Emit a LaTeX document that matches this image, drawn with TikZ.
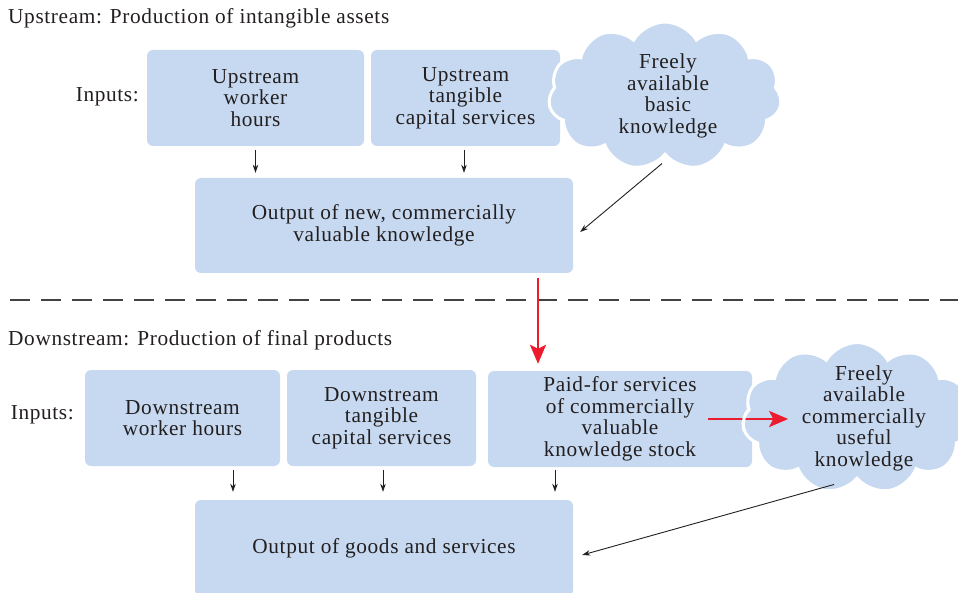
\documentclass[tikz,border=0pt]{standalone}
\usepackage{fontspec}
\setmainfont{Liberation Serif}[LetterSpace=3]
\usetikzlibrary{shapes.symbols,arrows.meta,calc}
\definecolor{boxblue}{RGB}{198,217,240}
\definecolor{flowred}{RGB}{236,28,46}
\definecolor{ink}{RGB}{35,31,32}
\begin{document}
\begin{tikzpicture}[x=1pt,y=-1pt,
  every node/.style={font=\fontsize{21.3}{21.5}\selectfont, text=ink},
  box/.style={fill=boxblue, rounded corners=6pt, align=center, inner sep=0pt},
  puff/.style={cloud, cloud puffs=11, cloud puff arc=120, fill=boxblue,
               draw=white, line width=3pt, inner sep=0pt},
  arr/.style={-{Stealth[length=8pt,width=5.5pt]}, draw=ink, line width=0.9pt},
  redarr/.style={-{Stealth[length=19pt,width=16pt,inset=4pt]}, draw=flowred, line width=2.6pt},
]
\useasboundingbox (0,0) rectangle (958,593);

% ---------- upstream ----------
\node[anchor=west, inner sep=0pt] (uptitle) at (8,18) {Upstream: Production of intangible assets};
\node[anchor=east, inner sep=0pt] (upin) at (139,97) {Inputs:};

\node[box, minimum width=217pt, minimum height=96pt] (b1) at (255.5,98) {Upstream\\worker\\hours};
\node[box, minimum width=189pt, minimum height=96pt] (b2) at (465.5,98) {Upstream\\tangible\\capital services};
\node[puff, minimum width=233pt, minimum height=148pt] (c1) at (665,96) {};
\node[align=center, inner sep=0pt] (c1text) at ([xshift=3pt]c1.center) {Freely\\available\\basic\\knowledge};

\node[box, minimum width=378pt, minimum height=95pt] (o1) at (384,225.5) {Output of new, commercially\\valuable knowledge};

\draw[arr, shorten <=4pt, shorten >=5pt] (b1.south) -- (b1.south |- o1.north);
\draw[arr, shorten <=4pt, shorten >=5pt] ([xshift=-1.5pt]b2.south) -- ([xshift=-1.5pt]b2.south |- o1.north);
\draw[arr] ([xshift=-3pt,yshift=-7pt]c1.south) -- ([xshift=7pt,yshift=-6.5pt]o1.east);

% ---------- divider ----------
\draw[ink!85, line width=1.1pt, dash pattern=on 20pt off 11pt] (10,300) -- (958,300);

% ---------- downstream ----------
\node[anchor=west, inner sep=0pt] (dntitle) at (8,340) {Downstream: Production of final products};
\node[anchor=east, inner sep=0pt] (dnin) at (74,415) {Inputs:};

\node[box, minimum width=195pt, minimum height=96pt] (b4) at (182.5,418) {Downstream\\worker hours};
\node[box, minimum width=189pt, minimum height=96pt] (b5) at (381.5,418) {Downstream\\tangible\\capital services};
\node[box, minimum width=264pt, minimum height=96pt] (b6) at (620,419) {Paid-for services\\of commercially\\valuable\\knowledge stock};
\node[puff, minimum width=229pt, minimum height=151pt] (c2) at (857,418) {};
\node[align=center, inner sep=0pt] (c2text) at ([xshift=7pt]c2.center) {Freely\\available\\commercially\\useful\\knowledge};

\node[box, minimum width=378pt, minimum height=96pt] (o2) at (384,548) {Output of goods and services};

% inputs feeding final output
\coordinate (k4) at ([xshift=50.5pt]b4.south);
\coordinate (k5) at ([xshift=1.5pt]b5.south);
\coordinate (k6) at ([xshift=-65pt]b6.south);
\draw[arr, shorten <=4pt, shorten >=8pt] (k4) -- (k4 |- o2.north);
\draw[arr, shorten <=4pt, shorten >=8pt] (k5) -- (k5 |- o2.north);
\draw[arr, shorten <=3pt, shorten >=8pt] (k6) -- (k6 |- o2.north);
\draw[arr] ([xshift=-23pt,yshift=-4pt]c2.south) -- ([xshift=9pt,yshift=-7pt]o2.east);

% knowledge flows (red)
\coordinate (rk) at ([xshift=154pt]o1.south);
\draw[redarr, shorten <=5pt, shorten >=7pt] (rk) -- (rk |- b6.north);
\draw[redarr] ([xshift=-44pt]b6.east) -- ([xshift=36pt]b6.east);
% white rim of the cloud crossing the red flow
\begin{scope}
  \clip (730,405) rectangle (760,431);
  \node[puff, fill=none, minimum width=229pt, minimum height=151pt] (c2rim) at (c2.center) {};
\end{scope}
\end{tikzpicture}
\end{document}
